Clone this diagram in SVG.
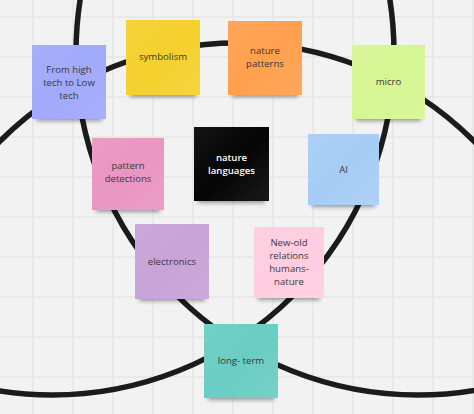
<svg xmlns="http://www.w3.org/2000/svg" width="474" height="414" viewBox="0 0 474 414">
  <defs>
    <style>
      .grid line { stroke: #e6e6e6; stroke-width: 1.4; }
      .ring { fill: none; stroke: #1b1b1b; stroke-width: 5.5; }
      .shadow { fill: #000; opacity: 0.38; filter: url(#blur); }
      .lbl { font-family: "Open Sans", "Noto Sans", "DejaVu Sans", sans-serif; font-size: 9.6px; fill: #3a3a3a; text-anchor: middle; }
      .lbl.inv { fill: #ffffff; font-weight: 600; }
      .sheen { fill: url(#sheen); }
    </style>
    <filter id="blur" x="-20%" y="-100%" width="140%" height="300%">
      <feGaussianBlur stdDeviation="2.2"/>
    </filter>
    <linearGradient id="sheen" x1="0" y1="0" x2="1" y2="1">
      <stop offset="0" stop-color="#ffffff" stop-opacity="0.06"/>
      <stop offset="0.5" stop-color="#ffffff" stop-opacity="0"/>
      <stop offset="1" stop-color="#ffffff" stop-opacity="0.08"/>
    </linearGradient>
  </defs>

  <rect width="474" height="414" fill="#f2f2f2"/>
  <g class="grid">
    <line x1="33" y1="0" x2="33" y2="414"/>
    <line x1="73" y1="0" x2="73" y2="414"/>
    <line x1="113" y1="0" x2="113" y2="414"/>
    <line x1="153" y1="0" x2="153" y2="414"/>
    <line x1="193" y1="0" x2="193" y2="414"/>
    <line x1="233" y1="0" x2="233" y2="414"/>
    <line x1="273" y1="0" x2="273" y2="414"/>
    <line x1="313" y1="0" x2="313" y2="414"/>
    <line x1="353" y1="0" x2="353" y2="414"/>
    <line x1="393" y1="0" x2="393" y2="414"/>
    <line x1="433" y1="0" x2="433" y2="414"/>
    <line x1="473" y1="0" x2="473" y2="414"/>
    <line x1="0" y1="17" x2="474" y2="17"/>
    <line x1="0" y1="57" x2="474" y2="57"/>
    <line x1="0" y1="97" x2="474" y2="97"/>
    <line x1="0" y1="137" x2="474" y2="137"/>
    <line x1="0" y1="177" x2="474" y2="177"/>
    <line x1="0" y1="217" x2="474" y2="217"/>
    <line x1="0" y1="257" x2="474" y2="257"/>
    <line x1="0" y1="297" x2="474" y2="297"/>
    <line x1="0" y1="337" x2="474" y2="337"/>
    <line x1="0" y1="377" x2="474" y2="377"/>
  </g>

  <g id="connectors">
    <circle class="ring" cx="52" cy="53" r="342"/>
    <circle class="ring" cx="418" cy="53" r="342"/>
    <circle class="ring" cx="237" cy="378" r="335"/>
  </g>

  <g id="n-hightech">
    <rect class="shadow" x="36" y="110" width="66" height="11"/>
    <rect x="32" y="45" width="74" height="74" fill="#a1a9fa"/>
    <rect class="sheen" x="32" y="45" width="74" height="74"/>
    <text class="lbl"><tspan x="69" y="72.5">From high</tspan><tspan x="69" y="85.5">tech to Low</tspan><tspan x="69" y="98.5">tech</tspan></text>
  </g>

  <g id="n-symbolism">
    <rect class="shadow" x="130" y="86" width="66" height="11"/>
    <rect x="126" y="20" width="74" height="75" fill="#f5d12e"/>
    <rect class="sheen" x="126" y="20" width="74" height="75"/>
    <text class="lbl" x="163" y="60">symbolism</text>
  </g>

  <g id="n-naturepatterns">
    <rect class="shadow" x="232" y="86" width="66" height="11"/>
    <rect x="228" y="21" width="74" height="74" fill="#ffa04e"/>
    <rect class="sheen" x="228" y="21" width="74" height="74"/>
    <text class="lbl"><tspan x="265" y="54">nature</tspan><tspan x="265" y="67">patterns</tspan></text>
  </g>

  <g id="n-micro">
    <rect class="shadow" x="356" y="110" width="65" height="11"/>
    <rect x="352" y="45" width="73" height="74" fill="#d6f693"/>
    <rect class="sheen" x="352" y="45" width="73" height="74"/>
    <text class="lbl" x="388.5" y="85">micro</text>
  </g>

  <g id="n-naturelanguages">
    <rect class="shadow" x="198" y="192" width="67" height="11"/>
    <rect x="194" y="127" width="75" height="74" fill="#050505"/>
    <rect class="sheen" x="194" y="127" width="75" height="74"/>
    <text class="lbl inv"><tspan x="231.5" y="160.5">nature</tspan><tspan x="231.5" y="173.5">languages</tspan></text>
  </g>

  <g id="n-patterndetections">
    <rect class="shadow" x="96" y="201" width="64" height="11"/>
    <rect x="92" y="138" width="72" height="72" fill="#ea96c2"/>
    <rect class="sheen" x="92" y="138" width="72" height="72"/>
    <text class="lbl"><tspan x="128" y="169">pattern</tspan><tspan x="128" y="182">detections</tspan></text>
  </g>

  <g id="n-ai">
    <rect class="shadow" x="312" y="196" width="63" height="11"/>
    <rect x="308" y="134" width="71" height="71" fill="#a7cdf5"/>
    <rect class="sheen" x="308" y="134" width="71" height="71"/>
    <text class="lbl" x="343.5" y="172.5">AI</text>
  </g>

  <g id="n-electronics">
    <rect class="shadow" x="139" y="290" width="66" height="11"/>
    <rect x="135" y="224" width="74" height="75" fill="#c8a3d8"/>
    <rect class="sheen" x="135" y="224" width="74" height="75"/>
    <text class="lbl" x="172" y="264.5">electronics</text>
  </g>

  <g id="n-newold">
    <rect class="shadow" x="258" y="289" width="62" height="11"/>
    <rect x="254" y="227" width="70" height="71" fill="#ffcde0"/>
    <rect class="sheen" x="254" y="227" width="70" height="71"/>
    <text class="lbl"><tspan x="289" y="246">New-old</tspan><tspan x="289" y="259">relations</tspan><tspan x="289" y="272">humans-</tspan><tspan x="289" y="285">nature</tspan></text>
  </g>

  <g id="n-longterm">
    <rect class="shadow" x="208" y="389" width="66" height="11"/>
    <rect x="204" y="324" width="74" height="74" fill="#6acdc3"/>
    <rect class="sheen" x="204" y="324" width="74" height="74"/>
    <text class="lbl" x="241" y="364">long- term</text>
  </g>
</svg>
